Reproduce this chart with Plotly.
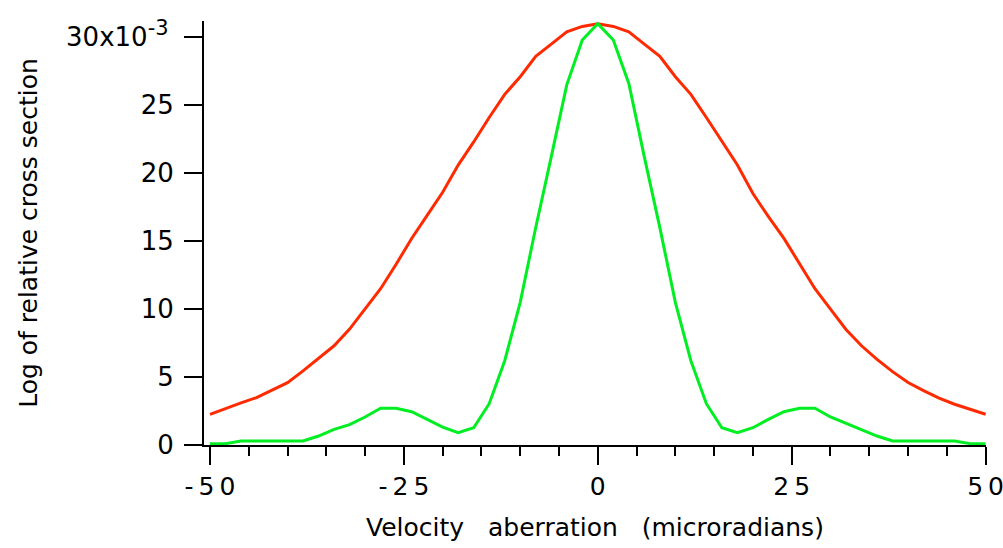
import plotly.graph_objects as go

x_vals = list(range(-50, 51, 2))

red_left = [2.26, 2.70, 3.10, 3.49, 4.03, 4.59, 5.45, 6.40, 7.30, 8.53, 10.0, 11.5,
            13.3, 15.2, 16.9, 18.6, 20.6, 22.3, 24.1, 25.8, 27.1, 28.6, 29.5, 30.4, 30.8]
red_peak = [31.0]
red_right = [30.8, 30.4, 29.5, 28.6, 27.1, 25.8, 24.1, 22.3, 20.6, 18.5, 16.8, 15.2,
             13.3, 11.5, 10.0, 8.5, 7.3, 6.3, 5.4, 4.6, 4.0, 3.45, 3.0, 2.65, 2.26]
red_vals = red_left + red_peak + red_right

green_left = [0.1, 0.1, 0.3, 0.3, 0.3, 0.3, 0.3, 0.66, 1.15, 1.5, 2.06, 2.7,
              2.7, 2.45, 1.89, 1.32, 0.9, 1.27, 3.04, 6.2, 10.5, 16.0, 21.2, 26.5, 29.8]
green_peak = [31.0]
green_right = [29.8, 26.6, 21.2, 16.0, 10.5, 6.2, 3.04, 1.27, 0.9, 1.27, 1.89, 2.45,
               2.7, 2.7, 2.06, 1.6, 1.1, 0.66, 0.3, 0.3, 0.3, 0.3, 0.3, 0.1, 0.1]
green_vals = green_left + green_peak + green_right

x_tickvals = [-50, -25, 0, 25, 50]
x_ticktext = ["-\u20095\u20090", "-\u20092\u20095", "0", "2\u20095", "5\u20090"]
y_tickvals = [0, 5, 10, 15, 20, 25, 30]
y_ticktext = ["0", "5", "10", "15", "20", "25",
              "30x10<sup><span style='font-size:21px'>-3</span></sup>\u2009"]

FONT = "DejaVu Sans"
NB = "\u00a0\u00a0\u00a0"

fig = go.Figure()
fig.add_trace(go.Scatter(x=x_vals, y=red_vals, mode="lines",
                         line=dict(color="#ff2a00", width=3), showlegend=False))
fig.add_trace(go.Scatter(x=x_vals, y=green_vals, mode="lines",
                         line=dict(color="#00ee22", width=3), showlegend=False))

fig.update_layout(
    width=1003, height=548,
    margin=dict(l=204, r=17, t=21, b=103),
    paper_bgcolor="white", plot_bgcolor="white",
    font=dict(family=FONT, color="black"),
)
fig.update_xaxes(
    range=[-50.77, 50.05], showgrid=False, zeroline=False, automargin=False,
    showline=True, linecolor="black", linewidth=2,
    tickmode="array", tickvals=x_tickvals, ticktext=x_ticktext,
    ticks="outside", ticklen=18, tickwidth=2, tickcolor="black",
    tickfont=dict(size=25, family=FONT), ticklabeloverflow="allow",
    minor=dict(tickmode="linear", tick0=-50, dtick=5, ticks="outside",
               ticklen=9, tickwidth=2, tickcolor="black", showgrid=False),
    title=dict(text="Velocity" + NB + "aberration" + NB + "(microradians)",
               font=dict(size=25, family=FONT), standoff=18),
)
fig.update_yaxes(
    range=[0, 31.2], showgrid=False, zeroline=False, automargin=False,
    showline=True, linecolor="black", linewidth=2,
    tickmode="array", tickvals=y_tickvals, ticktext=y_ticktext,
    ticks="outside", ticklen=18, tickwidth=2, tickcolor="black",
    tickfont=dict(size=26, family=FONT), ticklabelstandoff=5,
    title=dict(text="Log of relative cross section",
               font=dict(size=25, family=FONT), standoff=21),
)

fig.write_html("out.html", config={"displayModeBar": False},
               post_script="document.body.style.margin='0';")
